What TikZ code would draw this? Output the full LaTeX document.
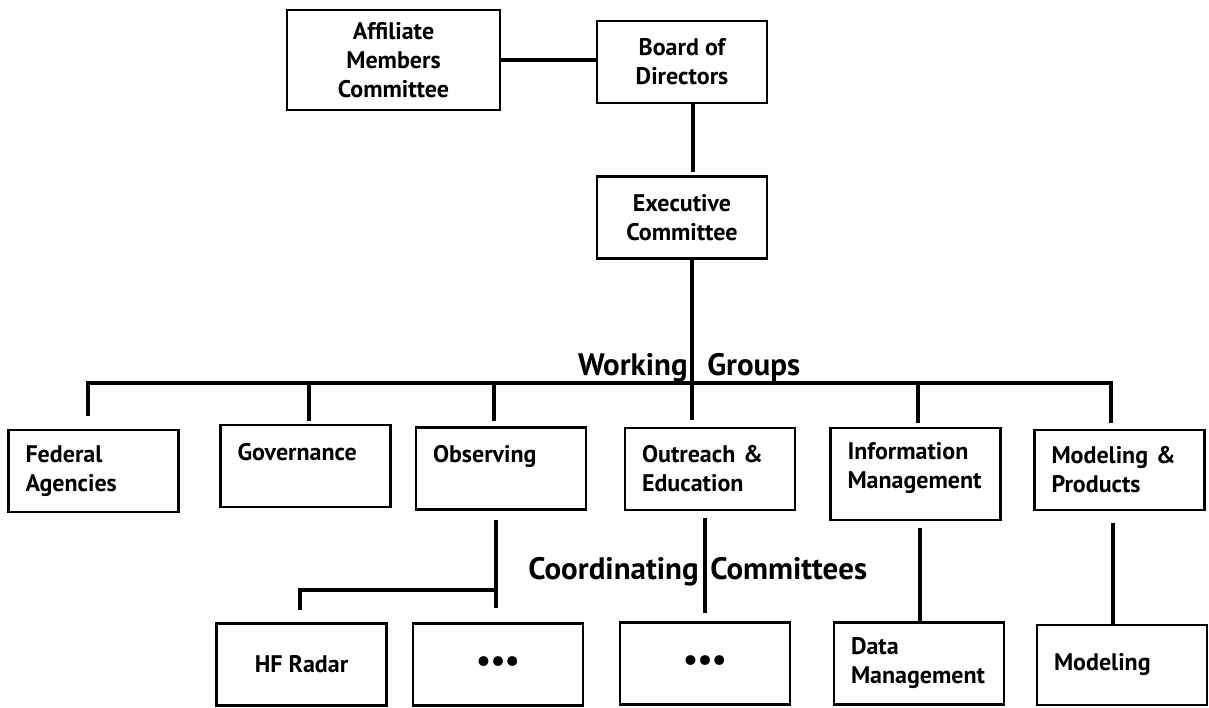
\documentclass[tikz,border=0pt]{standalone}
\usepackage{fontspec}
\setmainfont{PT Sans}
\usetikzlibrary{
  positioning     % executive committee below the board
}
\tikzset{
  every node/.style = {
    rectangle,
    draw,
    line width=2.6pt,
    minimum width=170pt,
    minimum height=82pt,
    inner sep=3pt,
    font=\fontsize{24}{29}\selectfont\bfseries
  },
  topbox/.style = {align=center},
  wg/.style = {text width=136pt, inner xsep=17pt, align=left},
  dots/.style = {font=\fontsize{32}{32}\selectfont\bfseries},
  grouptext/.style = {draw=none, minimum width=0pt, minimum height=0pt, inner sep=0pt,
    font=\fontsize{31}{34}\selectfont\bfseries},
  link/.style = {line width=4.5pt}
}

\begin{document}
\begin{tikzpicture}[x=1pt, y=-1pt]
  \useasboundingbox (0,0) rectangle (1209,707);

  %% nodes
  \node[topbox, minimum width=213pt, minimum height=100pt] (AMC) at (393.5,60) {Affiliate\\Members\\Committee};
  \node[topbox] (BD) at (682,62) {Board of\\Directors};
  \node[topbox] (EC) [below=71pt of BD] {Executive\\Committee};

  \node[wg] (FA)  at (93.5,471)  {Federal\\Agencies};
  \node[wg] (GOV) at (305.5,466) {Governance\\~};
  \node[wg] (OBS) at (501,468.5) {Observing\\~};
  \node[wg] (OE)  at (710,469)   {Outreach \&\\Education};
  \node[wg, minimum height=92pt] (IM) at (915.5,474) {Information\\Management\\[-12pt]~};
  \node[wg, minimum height=80pt] (MP) at (1119.5,470) {Modeling \&\\Products};

  \node (HF)  at (301.5,664.5) {HF Radar};
  \node[dots] (OD)  at (498,664.5)   {\textbullet\textbullet\textbullet};
  \node[dots] (OED) at (705,663.5)   {\textbullet\textbullet\textbullet};
  \node[wg] (DM) at (919,663.5) {Data\\Management};
  \node[wg, minimum height=80pt] (MOD) at (1122,665) {Modeling};

  \node[grouptext, anchor=base east] (WGa) at (689,375) {Working};
  \node[grouptext, anchor=base west] (WGb) at (706,375) {Groups};
  \node[grouptext, anchor=base east] (CCa) at (700,579) {Coordinating};
  \node[grouptext, anchor=base west] (CCb) at (709,579) {Committees};

  %% lines
  \coordinate (wg) at (0,383);
  \coordinate (cc) at (0,590);

  \draw[link] (AMC.east) -- (AMC.east -| BD.west);
  \draw[link, shorten >=3pt] ([xshift=11pt]BD.south) -- ([xshift=11pt]EC.north);
  \draw[link, shorten >=7pt] ([xshift=10pt]EC.south) -- ([xshift=10pt]EC.south |- OE.north);

  \draw[link, shorten <=13pt, shorten >=6pt] ([xshift=-5.5pt]FA.north) |- ([xshift=-8.5pt]MP.north |- wg) -- ([xshift=-8.5pt]MP.north);
  \draw[link, shorten >=3pt] ([xshift=3.5pt]GOV.north |- wg) -- ([xshift=3.5pt]GOV.north);
  \draw[link, shorten >=5pt] ([xshift=-7pt]OBS.north |- wg) -- ([xshift=-7pt]OBS.north);
  \draw[link, shorten >=4pt] ([xshift=2.5pt]IM.north |- wg) -- ([xshift=2.5pt]IM.north);

  \draw[link, shorten <=9pt, shorten >=14pt] ([xshift=-5pt]OBS.south) -- ([xshift=-5pt]OBS.south |- OD.north);
  \draw[link, shorten <=12pt] ([xshift=-1.5pt]HF.north) |- ([xshift=-5pt]OBS.south |- cc);
  \draw[link, shorten <=7pt, shorten >=8pt] (OED.north |- OE.south) -- (OED.north);
  \draw[link, shorten <=7pt] ([xshift=1pt]DM.north |- IM.south) -- ([xshift=1pt]DM.north);
  \draw[link, shorten <=12pt] ([xshift=-6.5pt]MP.south) -- ([xshift=-6.5pt]MP.south |- MOD.north);

\end{tikzpicture}
\end{document}
